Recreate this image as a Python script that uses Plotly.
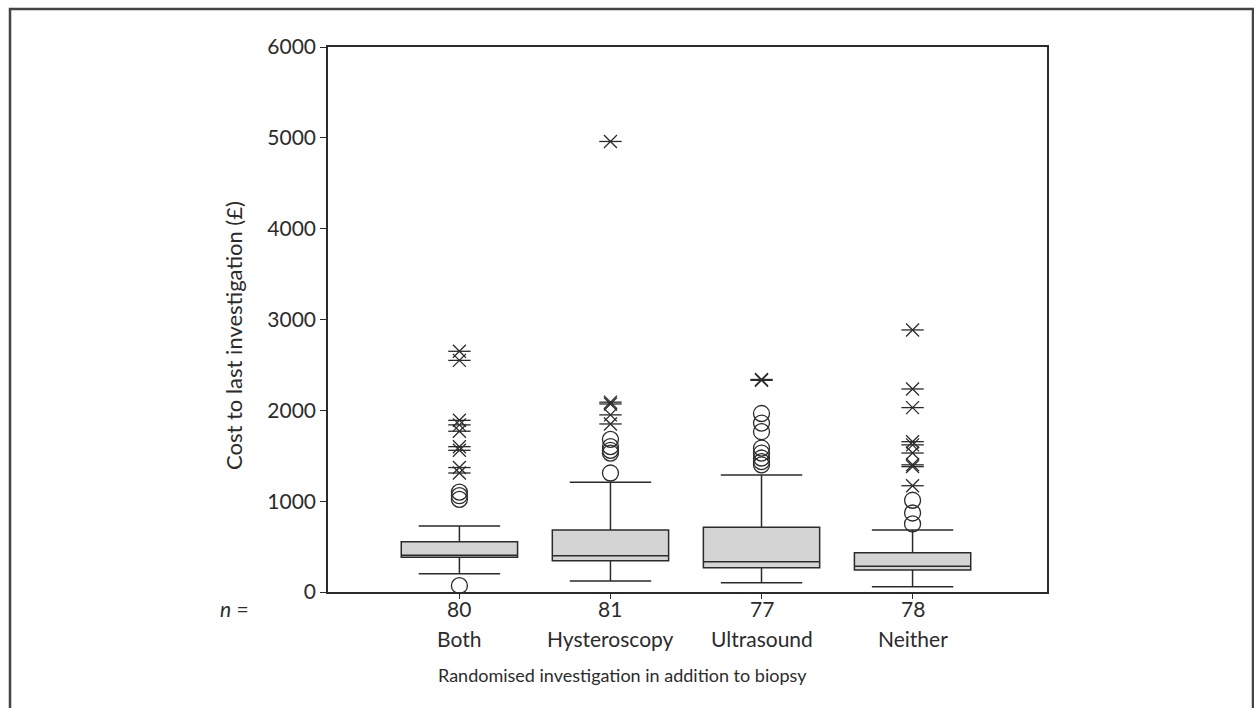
import plotly.graph_objects as go

categories = ["Both", "Hysteroscopy", "Ultrasound", "Neither"]
n_values = ["80", "81", "77", "78"]

q1 = [382, 345, 268, 242]
median = [404, 400, 334, 283]
q3 = [554, 683, 712, 433]
lower_whisker = [202, 121, 103, 58]
upper_whisker = [727, 1208, 1288, 683]

circle_outliers = {
    "Both": [70, 1020, 1060, 1100],
    "Hysteroscopy": [1310, 1530, 1560, 1600, 1680],
    "Ultrasound": [1400, 1435, 1475, 1530, 1585, 1765, 1860, 1965],
    "Neither": [750, 870, 1010],
}
star_outliers = {
    "Both": [2650, 2550, 1890, 1840, 1770, 1600, 1560, 1370, 1310],
    "Hysteroscopy": [4960, 2090, 2070, 1950, 1850],
    "Ultrasound": [2330, 2340],
    "Neither": [2885, 2235, 2030, 1655, 1620, 1530, 1400, 1380, 1170],
}

y_ticks = [0, 1000, 2000, 3000, 4000, 5000, 6000]

FONT = "Lato, 'Open Sans', sans-serif"
INK = "#2b2b2b"
FS = 21

fig = go.Figure()
fig.add_trace(go.Box(
    x=categories, q1=q1, median=median, q3=q3,
    lowerfence=lower_whisker, upperfence=upper_whisker,
    boxpoints=False, width=0.77, whiskerwidth=0.7,
    fillcolor="#d4d4d4", line=dict(color=INK, width=1.5),
    showlegend=False, hoverinfo="skip",
))

cx, cy = [], []
for c in categories:
    for v in circle_outliers[c]:
        cx.append(c); cy.append(v)
fig.add_trace(go.Scatter(
    x=cx, y=cy, mode="markers", cliponaxis=False, showlegend=False,
    marker=dict(symbol="circle-open", size=16, color=INK, line=dict(width=1.3, color=INK)),
))

sx, sy = [], []
for c in categories:
    for v in star_outliers[c]:
        sx.append(c); sy.append(v)
for sym, sz in (("x-thin-open", 13), ("line-ew-open", 16)):
    fig.add_trace(go.Scatter(
        x=sx, y=sy, mode="markers", cliponaxis=False, showlegend=False,
        marker=dict(symbol=sym, size=sz, color=INK, line=dict(width=1.3, color=INK)),
    ))

L, R, T, B = 328, 1047, 47, 592
W, H = 1254, 708
pw, ph = R - L, B - T

def px(x):
    return (x - L) / pw

def py(y):
    return (B - y) / ph

fig.update_layout(
    width=W, height=H,
    margin=dict(l=L, r=W - R, t=T, b=H - B, pad=0),
    paper_bgcolor="white", plot_bgcolor="white",
    font=dict(family=FONT, size=FS, color=INK),
    xaxis=dict(
        type="category", range=[-0.87, 3.89],
        tickmode="array", tickvals=categories, showticklabels=False,
        ticks="outside", ticklen=5, tickwidth=1.3, tickcolor=INK,
        showline=True, linecolor=INK, linewidth=1.5, mirror=True,
        showgrid=False, zeroline=False,
    ),
    yaxis=dict(
        range=[0, 6000], tickmode="array", tickvals=y_ticks,
        ticks="outside", ticklen=6, tickwidth=1.3, tickcolor=INK,
        showline=True, linecolor=INK, linewidth=1.5, mirror=True,
        showgrid=False, zeroline=False, tickfont=dict(size=FS),
    ),
    shapes=[dict(
        type="rect", xref="paper", yref="paper",
        x0=px(10), x1=px(1253), y0=py(720), y1=py(9),
        line=dict(color="#444", width=2.5), fillcolor="rgba(0,0,0,0)", layer="below",
    )],
)

annotations = []
for c, n in zip(categories, n_values):
    annotations.append(dict(
        x=c, xref="x", y=py(608), yref="paper", text=n, showarrow=False,
        font=dict(size=FS), xanchor="center", yanchor="middle",
    ))
    annotations.append(dict(
        x=c, xref="x", y=py(638), yref="paper", text=c, showarrow=False,
        font=dict(size=FS), xanchor="center", yanchor="middle",
    ))
annotations.append(dict(
    x=px(234), y=py(608), xref="paper", yref="paper", text="<i>n</i> =",
    showarrow=False, font=dict(size=FS), xanchor="center", yanchor="middle",
))
annotations.append(dict(
    x=px(622), y=py(675), xref="paper", yref="paper",
    text="Randomised investigation in addition to biopsy",
    showarrow=False, font=dict(size=18), xanchor="center", yanchor="middle",
))
annotations.append(dict(
    x=px(233), y=py(336), xref="paper", yref="paper",
    text="Cost to last investigation (£)", textangle=-90,
    showarrow=False, font=dict(size=22), xanchor="center", yanchor="middle",
))
fig.update_layout(annotations=annotations)

fig.write_html("out.html")
